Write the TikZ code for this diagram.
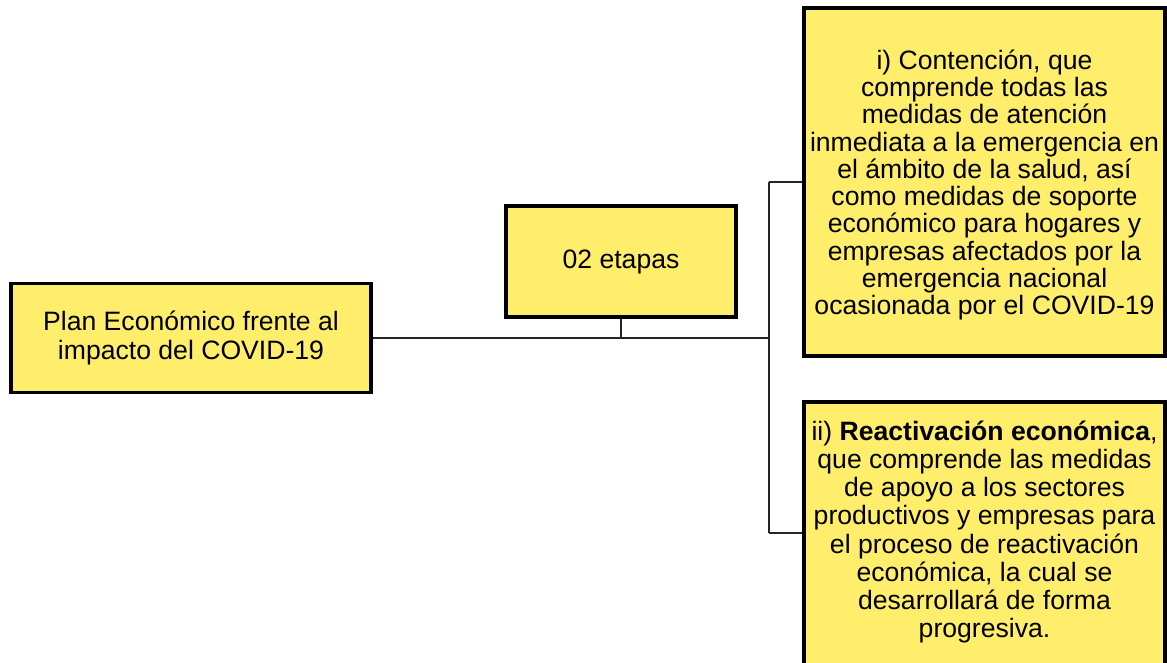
\documentclass[tikz,border=0pt]{standalone}
\usepackage{fontspec}
\setmainfont{Liberation Sans}
\definecolor{boxyellow}{RGB}{255,238,108}
\begin{document}
\begin{tikzpicture}[x=1pt,y=-1pt,
  box/.style={draw=black,line width=3.5pt,fill=boxyellow,inner sep=0pt,align=center,
    font=\fontsize{26.6}{29}\selectfont},
  txt/.style={inner sep=0pt,align=center},
  conn/.style={draw=black!85,line width=2.4pt}]
\clip (0,0) rectangle (1167,663);
\useasboundingbox (0,0) rectangle (1167,663);
\node[box,minimum width=360pt,minimum height=109pt] (plan) at (191,338)
  {Plan Económico frente al\\impacto del COVID-19};
\node[box,minimum width=230pt,minimum height=111pt] (etapas) at (621,261.5)
  {02 etapas};
\node[box,minimum width=361pt,minimum height=348pt] (cont) at (984.5,182) {};
\node[txt,font=\fontsize{26.6}{27.3}\selectfont] (conttext) at (984.5,185)
  {i) Contención, que\\comprende todas las\\medidas de atención\\inmediata a la emergencia en\\el ámbito de la salud, así\\como medidas de soporte\\económico para hogares y\\empresas afectados por la\\emergencia nacional\\ocasionada por el COVID-19};
\node[box,minimum width=361pt,minimum height=320pt,anchor=north] (react) at (984.5,400) {};
\node[txt,font=\fontsize{26.6}{28.1}\selectfont] (reacttext) at (984.5,532)
  {ii) \textbf{Reactivación económica},\\que comprende las medidas\\de apoyo a los sectores\\productivos y empresas para\\el proceso de reactivación\\económica, la cual se\\desarrollará de forma\\progresiva.};
\coordinate (jm) at (769,338);
\coordinate (j1) at (769,182);
\coordinate (j2) at (769,533);
\draw[conn] (plan.east) -- (jm);
\draw[conn] (etapas.south) -- (etapas.south |- jm);
\draw[conn] (j1) -- (j2);
\draw[conn] (j1) -- (j1 -| cont.west);
\draw[conn] (j2) -- (j2 -| react.west);
\end{tikzpicture}
\end{document}
